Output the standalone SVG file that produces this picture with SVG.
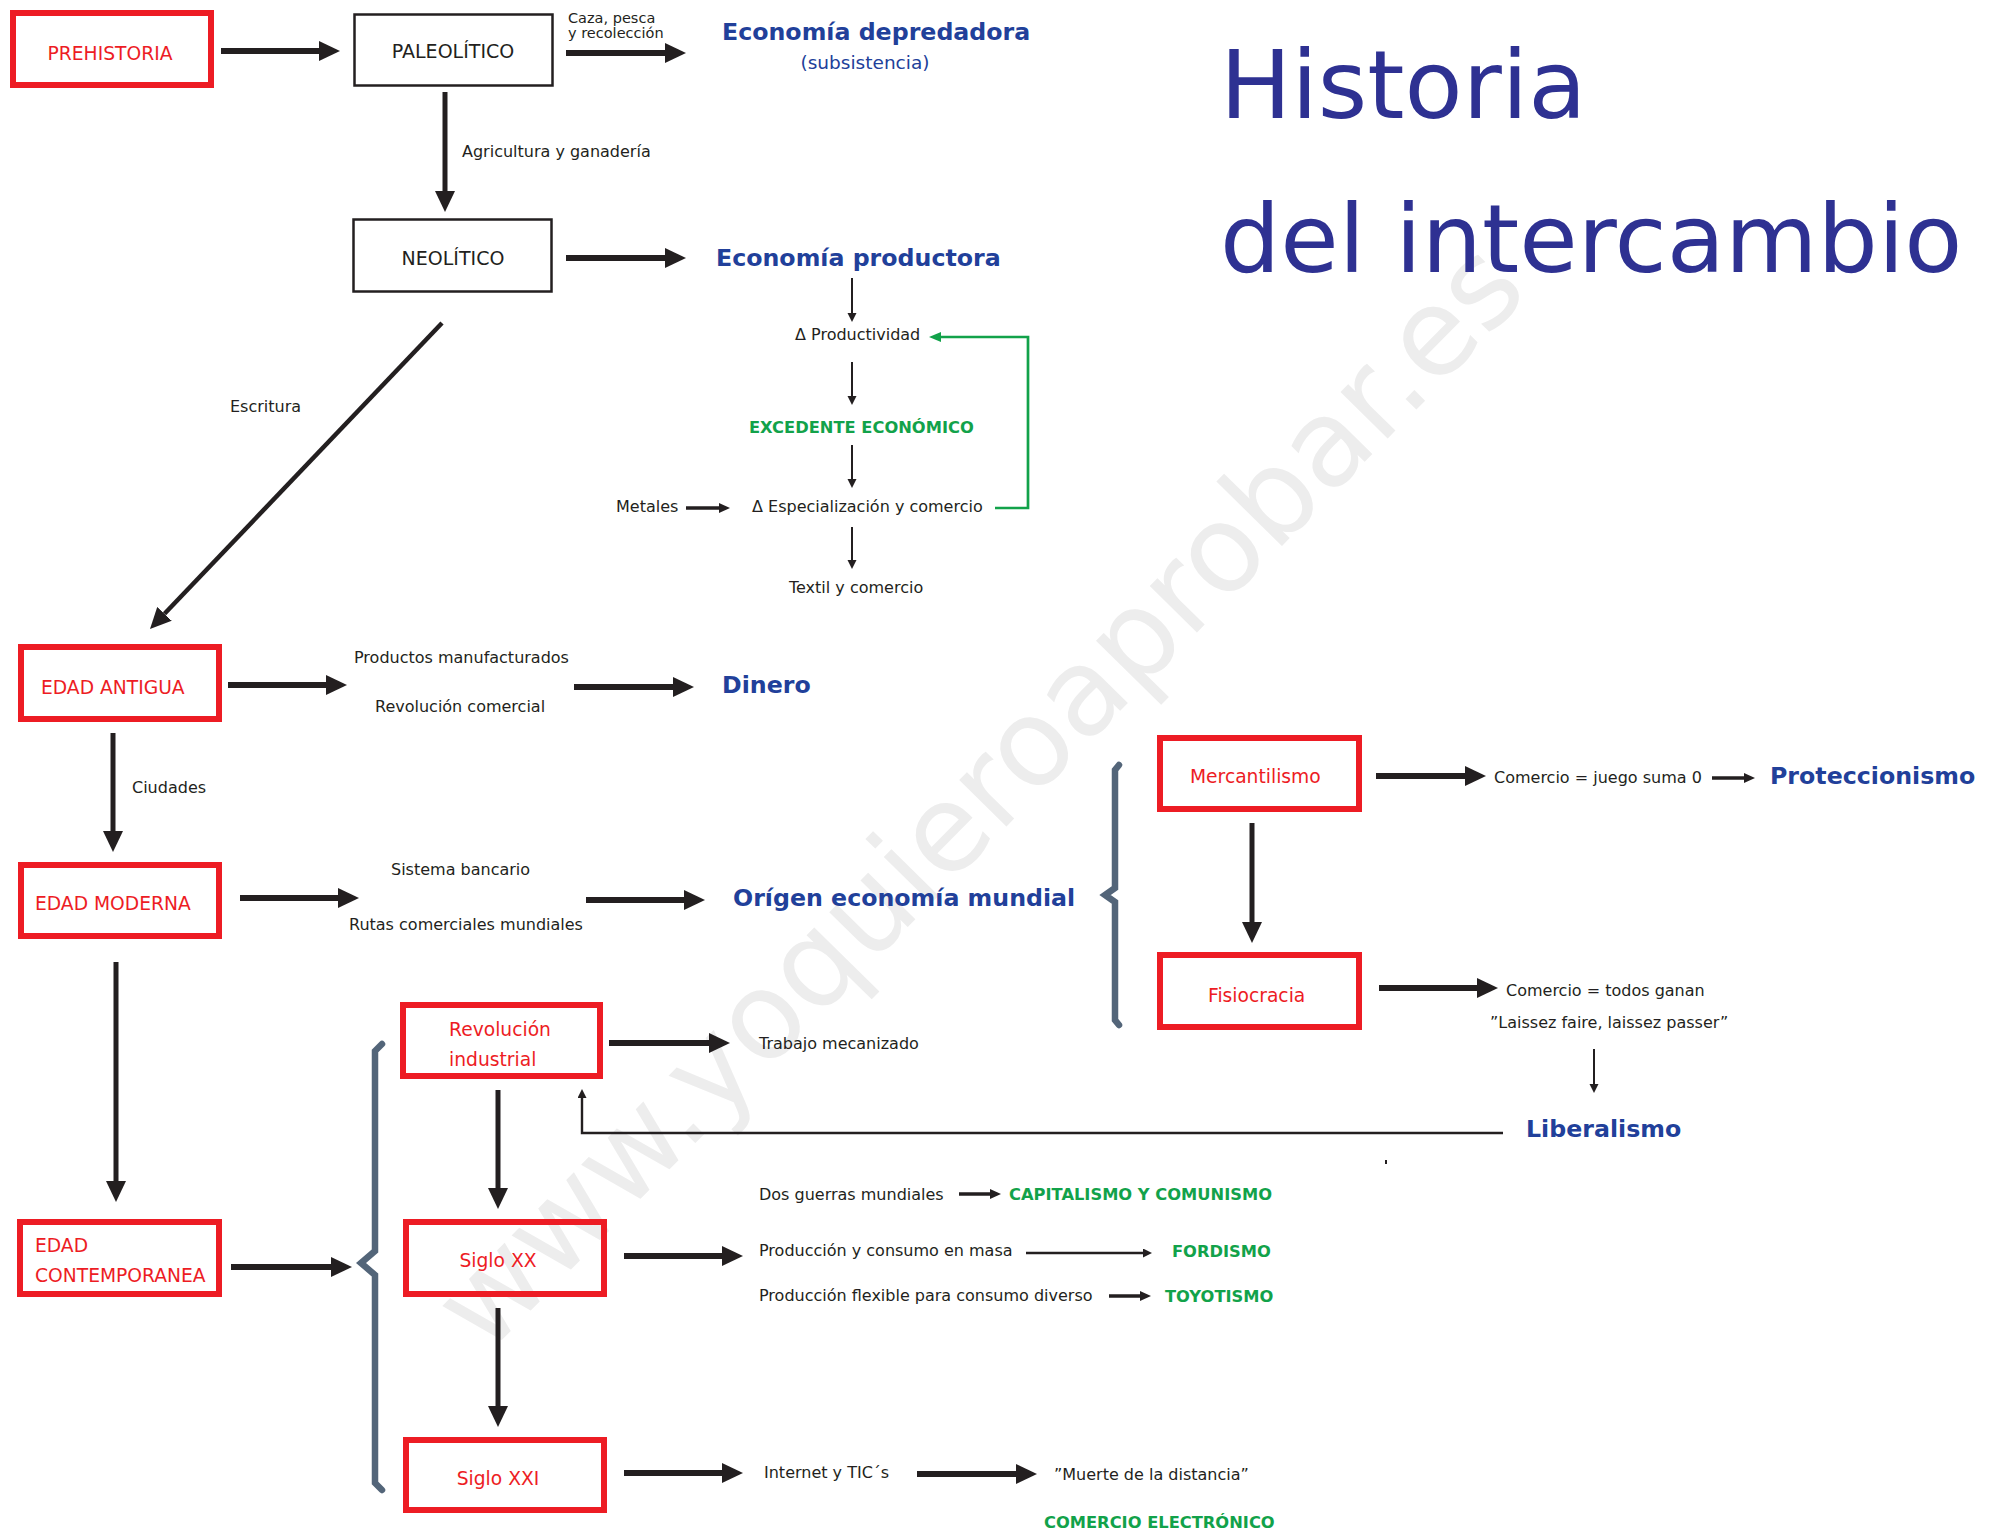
<svg xmlns="http://www.w3.org/2000/svg" width="1997" height="1532" viewBox="0 0 1997 1532">
<style>
text{font-family:"DejaVu Sans",Verdana,sans-serif;fill:#231f20;font-size:16px}
.wm{font-size:121px;fill:#ededed}
.title{font-size:95px;fill:#2e3192}
.red{font-size:18.7px;fill:#ed1c24}
.lbl{font-size:19px}
.sm{font-size:14.5px}
.blue{font-size:23.7px;font-weight:bold;fill:#21409a}
.bluen{font-size:18.5px;fill:#21409a}
.green{font-size:16.3px;font-weight:bold;fill:#12a24a}
.rbox{fill:none;stroke:#ed1c24;stroke-width:6}
.kbox{fill:none;stroke:#231f20;stroke-width:2.5}
.big{fill:none;stroke:#231f20;stroke-width:6;marker-end:url(#ahB)}
.vert{fill:none;stroke:#231f20;stroke-width:5;marker-end:url(#ahB)}
.thin{fill:none;stroke:#231f20;stroke-width:2;marker-end:url(#ahS)}
.med{fill:none;stroke:#231f20;stroke-width:3.5;marker-end:url(#ahM)}
.gr{fill:none;stroke:#12a24a;stroke-width:2.7;marker-end:url(#ahG)}
.brace{fill:none;stroke:#536579;stroke-width:6.5;stroke-linecap:round;stroke-linejoin:miter}
</style>
<defs>
<marker id="ahB" markerUnits="userSpaceOnUse" markerWidth="22" markerHeight="20" refX="0" refY="10" orient="auto"><path d="M0,0 L21,10 L0,20 z" fill="#231f20"/></marker>
<marker id="ahS" markerUnits="userSpaceOnUse" markerWidth="10" markerHeight="10" refX="0" refY="4.5" orient="auto"><path d="M0,0 L9,4.5 L0,9 z" fill="#231f20"/></marker>
<marker id="ahM" markerUnits="userSpaceOnUse" markerWidth="12" markerHeight="11" refX="0" refY="5" orient="auto"><path d="M0,0 L11,5 L0,10 z" fill="#231f20"/></marker>
<marker id="ahG" markerUnits="userSpaceOnUse" markerWidth="13" markerHeight="11" refX="0" refY="5" orient="auto"><path d="M0,0 L12,5 L0,10 z" fill="#12a24a"/></marker>
</defs>
<rect width="1997" height="1532" fill="#ffffff"/>
<text class="wm" transform="translate(486,1356) rotate(-45.5)">www.yoquieroaprobar.es</text>

<g id="title">
<text class="title" x="1220" y="118">Historia</text>
<text class="title" x="1220" y="272">del intercambio</text>
</g>

<g id="connectors">
<path class="big" d="M221,51 H319"/>
<path class="big" d="M566,53 H665"/>
<path class="vert" d="M445,92 V191"/>
<path class="big" d="M566,258 H665"/>
<path class="vert" style="stroke-width:4.5" d="M442,323 L164.5,613.8"/>
<path class="thin" d="M852,278 V313"/>
<path class="thin" d="M852,362 V396"/>
<path class="thin" d="M852,445 V479"/>
<path class="med" d="M686,508 H719"/>
<path class="thin" d="M852,527 V560"/>
<path class="gr" d="M995,508 H1028 V337 H941"/>
<path class="big" d="M228,685 H326"/>
<path class="big" d="M574,687 H673"/>
<path class="vert" d="M113,733 V831"/>
<path class="big" d="M240,898 H338"/>
<path class="big" d="M586,900 H684"/>
<path class="vert" d="M116,962 V1181"/>
<path class="big" d="M231,1267 H331"/>
<path class="big" d="M1376,776 H1465"/>
<path class="med" d="M1712,778 H1744"/>
<path class="vert" d="M1252,823 V922"/>
<path class="big" d="M1379,988 H1477"/>
<path class="thin" d="M1594,1049 V1084"/>
<path class="thin" style="stroke-width:2.4" d="M1503,1133 H582 V1098"/>
<path class="big" d="M609,1043 H709"/>
<path class="vert" d="M498,1090 V1188"/>
<path class="med" d="M959,1194 H990"/>
<path class="big" d="M624,1256 H722"/>
<path class="thin" style="stroke-width:2.5" d="M1026,1253 H1143"/>
<path class="med" d="M1109,1296 H1140"/>
<path class="vert" d="M498,1308 V1406"/>
<path class="big" d="M624,1473 H722"/>
<path class="big" d="M917,1474 H1016"/>
<path class="brace" d="M382,1044 L375,1051 V1251 L361,1263 L375,1275 V1483 L382,1490"/>
<path class="brace" d="M1119,765 L1115,770 V888 L1105,895 L1115,902 V1020 L1119,1025"/>
<rect x="1385" y="1160" width="2" height="4" fill="#231f20"/>
</g>

<g id="prehistoria"><rect class="rbox" x="13" y="13" width="198" height="72"/><text class="red" x="110" y="60" text-anchor="middle">PREHISTORIA</text></g>
<g id="paleolitico"><rect class="kbox" x="354.5" y="14.5" width="198" height="71"/><text class="lbl" x="453" y="58" text-anchor="middle">PALEOLÍTICO</text></g>
<g id="neolitico"><rect class="kbox" x="353.5" y="219.5" width="198" height="72"/><text class="lbl" x="453" y="265" text-anchor="middle">NEOLÍTICO</text></g>
<g id="edad-antigua"><rect class="rbox" x="21" y="647" width="198" height="72"/><text class="red" x="41" y="694">EDAD ANTIGUA</text></g>
<g id="edad-moderna"><rect class="rbox" x="21" y="865" width="198" height="71"/><text class="red" x="35" y="910">EDAD MODERNA</text></g>
<g id="edad-contemporanea"><rect class="rbox" x="20" y="1222" width="199" height="72"/><text class="red" x="35" y="1252">EDAD</text><text class="red" x="35" y="1282">CONTEMPORANEA</text></g>
<g id="revolucion-industrial"><rect class="rbox" x="403" y="1005" width="197" height="71"/><text class="red" x="449" y="1036">Revolución</text><text class="red" x="449" y="1066">industrial</text></g>
<g id="siglo-xx"><rect class="rbox" x="406" y="1222" width="198" height="72"/><text class="red" x="498" y="1267" text-anchor="middle">Siglo XX</text></g>
<g id="siglo-xxi"><rect class="rbox" x="406" y="1440" width="198" height="70"/><text class="red" x="498" y="1485" text-anchor="middle">Siglo XXI</text></g>
<g id="mercantilismo"><rect class="rbox" x="1160" y="738" width="199" height="71"/><text class="red" x="1190" y="783">Mercantilismo</text></g>
<g id="fisiocracia"><rect class="rbox" x="1160" y="955" width="199" height="72"/><text class="red" x="1208" y="1002">Fisiocracia</text></g>

<g id="labels">
<text class="sm" x="568" y="23">Caza, pesca</text>
<text class="sm" x="568" y="38">y recolección</text>
<text class="blue" x="722" y="40">Economía depredadora</text>
<text class="bluen" x="865" y="69" text-anchor="middle">(subsistencia)</text>
<text x="462" y="157">Agricultura y ganadería</text>
<text class="blue" x="716" y="266">Economía productora</text>
<text x="795" y="340">Δ Productividad</text>
<text class="green" x="749" y="433">EXCEDENTE ECONÓMICO</text>
<text x="616" y="512">Metales</text>
<text x="752" y="512">Δ Especialización y comercio</text>
<text x="789" y="593">Textil y comercio</text>
<text x="230" y="412">Escritura</text>
<text x="354" y="663">Productos manufacturados</text>
<text x="375" y="712">Revolución comercial</text>
<text class="blue" x="722" y="693">Dinero</text>
<text x="132" y="793">Ciudades</text>
<text x="391" y="875">Sistema bancario</text>
<text x="349" y="930">Rutas comerciales mundiales</text>
<text class="blue" x="733" y="906">Orígen economía mundial</text>
<text x="1494" y="783">Comercio = juego suma 0</text>
<text class="blue" x="1770" y="784">Proteccionismo</text>
<text x="1506" y="996">Comercio = todos ganan</text>
<text x="1490" y="1028">”Laissez faire, laissez passer”</text>
<text class="blue" x="1526" y="1137">Liberalismo</text>
<text x="759" y="1049">Trabajo mecanizado</text>
<text x="759" y="1200">Dos guerras mundiales</text>
<text class="green" x="1009" y="1200">CAPITALISMO Y COMUNISMO</text>
<text x="759" y="1256">Producción y consumo en masa</text>
<text class="green" x="1172" y="1257">FORDISMO</text>
<text x="759" y="1301">Producción flexible para consumo diverso</text>
<text class="green" x="1165" y="1302">TOYOTISMO</text>
<text x="764" y="1478">Internet y TIC´s</text>
<text x="1054" y="1480">”Muerte de la distancia”</text>
<text class="green" x="1044" y="1528">COMERCIO ELECTRÓNICO</text>
</g>
</svg>
